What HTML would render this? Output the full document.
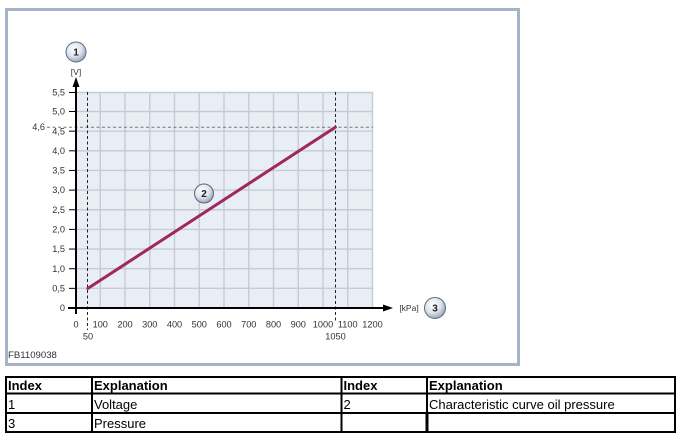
<!DOCTYPE html>
<html><head><meta charset="utf-8"><style>
html,body{margin:0;padding:0;background:#fff;}
body{width:683px;height:438px;overflow:hidden;position:relative;}
svg{position:absolute;left:0;top:0;}
</style></head><body>
<svg width="683" height="438" viewBox="0 0 683 438" xmlns="http://www.w3.org/2000/svg" font-family="Liberation Sans, Arial, sans-serif">
<defs>
<radialGradient id="cg" cx="40%" cy="35%" r="70%">
<stop offset="0" stop-color="#ffffff"/>
<stop offset="0.55" stop-color="#dde3ec"/>
<stop offset="1" stop-color="#8d9bb0"/>
</radialGradient>
</defs>
<!-- frame -->
<rect x="6.5" y="9.5" width="512" height="355" fill="#fff" stroke="#a5b4c8" stroke-width="3"/>
<!-- plot background -->
<rect x="76" y="92" width="297" height="216" fill="#e9eef5"/>
<g stroke="#c3cbd9" stroke-width="1.4">
<line x1="100.25" y1="92" x2="100.25" y2="308"/>
<line x1="125" y1="92" x2="125" y2="308"/>
<line x1="149.75" y1="92" x2="149.75" y2="308"/>
<line x1="174.5" y1="92" x2="174.5" y2="308"/>
<line x1="199.25" y1="92" x2="199.25" y2="308"/>
<line x1="224" y1="92" x2="224" y2="308"/>
<line x1="248.75" y1="92" x2="248.75" y2="308"/>
<line x1="273.5" y1="92" x2="273.5" y2="308"/>
<line x1="298.25" y1="92" x2="298.25" y2="308"/>
<line x1="323" y1="92" x2="323" y2="308"/>
<line x1="347.75" y1="92" x2="347.75" y2="308"/>
<line x1="372.5" y1="92" x2="372.5" y2="308"/>
<line x1="76" y1="288.35" x2="373" y2="288.35"/>
<line x1="76" y1="268.7" x2="373" y2="268.7"/>
<line x1="76" y1="249.05" x2="373" y2="249.05"/>
<line x1="76" y1="229.4" x2="373" y2="229.4"/>
<line x1="76" y1="209.75" x2="373" y2="209.75"/>
<line x1="76" y1="190.1" x2="373" y2="190.1"/>
<line x1="76" y1="170.45" x2="373" y2="170.45"/>
<line x1="76" y1="150.8" x2="373" y2="150.8"/>
<line x1="76" y1="131.15" x2="373" y2="131.15"/>
<line x1="76" y1="111.5" x2="373" y2="111.5"/>
<line x1="76" y1="92.5" x2="373" y2="92.5"/>
</g>
<!-- dashed references -->
<line x1="47" y1="127.2" x2="373" y2="127.2" stroke="#777" stroke-width="1" stroke-dasharray="3,2.5"/>
<line x1="87.5" y1="92" x2="87.5" y2="330" stroke="#222" stroke-width="1" stroke-dasharray="3,2.5"/>
<line x1="335.5" y1="92" x2="335.5" y2="322" stroke="#222" stroke-width="1" stroke-dasharray="3,2.5"/>
<!-- curve -->
<line x1="87.9" y1="288.4" x2="335.4" y2="127.2" stroke="#a0285e" stroke-width="3" stroke-linecap="round"/>
<!-- axes -->
<g stroke="#000" stroke-width="2">
<line x1="76" y1="314" x2="76" y2="84"/>
<line x1="68" y1="308" x2="386" y2="308"/>
</g>
<g stroke="#000" stroke-width="1">
<line x1="69" y1="288.35" x2="76" y2="288.35"/>
<line x1="69" y1="268.7" x2="76" y2="268.7"/>
<line x1="69" y1="249.05" x2="76" y2="249.05"/>
<line x1="69" y1="229.4" x2="76" y2="229.4"/>
<line x1="69" y1="209.75" x2="76" y2="209.75"/>
<line x1="69" y1="190.1" x2="76" y2="190.1"/>
<line x1="69" y1="170.45" x2="76" y2="170.45"/>
<line x1="69" y1="150.8" x2="76" y2="150.8"/>
<line x1="69" y1="131.15" x2="76" y2="131.15"/>
<line x1="69" y1="111.5" x2="76" y2="111.5"/>
<line x1="69" y1="92.5" x2="76" y2="92.5"/>
</g>
<polygon points="76,77 72.5,87 79.5,87" fill="#000"/>
<polygon points="393,308 383,304.5 383,311.5" fill="#000"/>
<!-- y labels -->
<g font-size="9.2" fill="#333" text-anchor="end">
<text x="65" y="311">0</text>
<text x="65" y="291.5">0,5</text>
<text x="65" y="271.8">1,0</text>
<text x="65" y="252.2">1,5</text>
<text x="65" y="232.5">2,0</text>
<text x="65" y="212.9">2,5</text>
<text x="65" y="193.2">3,0</text>
<text x="65" y="173.6">3,5</text>
<text x="65" y="153.9">4,0</text>
<text x="65" y="134.3">4,5</text>
<text x="65" y="114.6">5,0</text>
<text x="65" y="95.5">5,5</text>
<text x="45" y="130.2">4,6</text>
</g>
<!-- x labels -->
<g font-size="9.2" fill="#333" text-anchor="middle">
<text x="76" y="327.5">0</text>
<text x="100.25" y="327.5">100</text>
<text x="125" y="327.5">200</text>
<text x="149.75" y="327.5">300</text>
<text x="174.5" y="327.5">400</text>
<text x="199.25" y="327.5">500</text>
<text x="224" y="327.5">600</text>
<text x="248.75" y="327.5">700</text>
<text x="273.5" y="327.5">800</text>
<text x="298.25" y="327.5">900</text>
<text x="323" y="327.5">1000</text>
<text x="347.75" y="327.5">1100</text>
<text x="372.5" y="327.5">1200</text>
<text x="88" y="339.5">50</text>
<text x="335.5" y="339.5">1050</text>
</g>
<text x="76" y="75" font-size="8.5" fill="#333" text-anchor="middle">[V]</text>
<text x="409" y="311" font-size="8.5" fill="#333" text-anchor="middle">[kPa]</text>
<text x="8" y="358" font-size="9.6" fill="#333">FB1109038</text>
<!-- circles -->
<g stroke="#5d6a7e" stroke-width="1" fill="url(#cg)">
<circle cx="76" cy="52" r="10"/>
<circle cx="204" cy="193.5" r="9.5"/>
<circle cx="435" cy="308" r="10.5"/>
</g>
<g font-size="10" font-weight="bold" fill="#222" text-anchor="middle">
<text x="76" y="55.5">1</text>
<text x="204" y="197">2</text>
<text x="435" y="311.5">3</text>
</g>
<!-- table -->
<g stroke="#000" stroke-width="2">
<line x1="5" y1="377" x2="676" y2="377"/>
<line x1="5" y1="393.5" x2="676" y2="393.5"/>
<line x1="5" y1="413" x2="676" y2="413"/>
<line x1="5" y1="432" x2="676" y2="432"/>
<line x1="6" y1="376" x2="6" y2="433"/>
<line x1="92" y1="376" x2="92" y2="433"/>
<line x1="341.5" y1="376" x2="341.5" y2="433"/>
<line x1="427" y1="376" x2="427" y2="433"/>
<line x1="675" y1="376" x2="675" y2="433"/>
</g>
<line x1="427" y1="413" x2="427" y2="433" stroke="#000" stroke-width="3"/>
<g font-size="13" fill="#000">
<text x="8" y="390" font-weight="bold">Index</text>
<text x="94" y="390" font-weight="bold">Explanation</text>
<text x="343.5" y="390" font-weight="bold">Index</text>
<text x="429" y="390" font-weight="bold">Explanation</text>
<text x="8" y="409">1</text>
<text x="94" y="409">Voltage</text>
<text x="343.5" y="409">2</text>
<text x="429" y="409">Characteristic curve oil pressure</text>
<text x="8" y="428">3</text>
<text x="94" y="428">Pressure</text>
</g>
</svg>
</body></html>
